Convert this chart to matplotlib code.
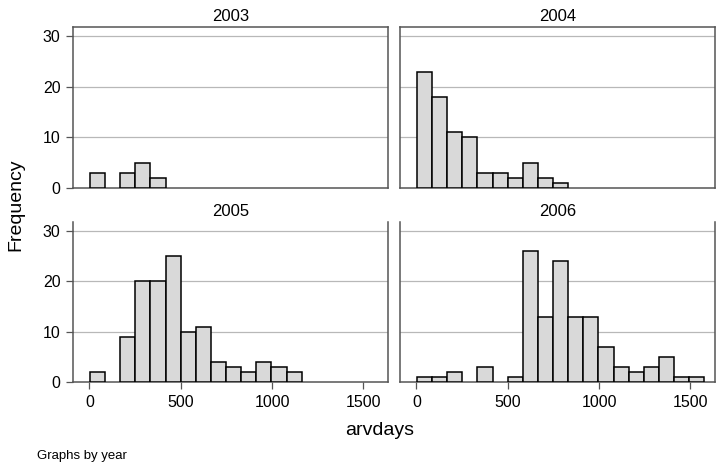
import numpy as np
import matplotlib
matplotlib.use("Agg")
import matplotlib.pyplot as plt

plt.rcParams["font.family"] = ["Liberation Sans", "DejaVu Sans"]

# histogram counts per bin (bins of ~83 days starting near 0)
years = ["2003", "2004", "2005", "2006"]
counts_2003 = [3, 0, 3, 5, 2]
counts_2004 = [23, 18, 11, 10, 3, 3, 2, 5, 2, 1]
counts_2005 = [2, 0, 9, 20, 20, 25, 10, 11, 4, 3, 2, 4, 3, 2]
counts_2006 = [1, 1, 2, 0, 3, 0, 1, 26, 13, 24, 13, 13, 7, 3, 2, 3, 5, 1, 1]
bin_start = 3.0
bin_width = 82.8
x_ticks = [0, 500, 1000, 1500]
y_ticks = [0, 10, 20, 30]

all_counts = [counts_2003, counts_2004, counts_2005, counts_2006]

fig = plt.figure(figsize=(7.25, 4.73), dpi=100)
W, H = 725, 473

# panel boxes in pixels: (left, top, right, bottom)
boxes = [(73, 27, 388, 188), (400, 27, 715, 188),
         (73, 222, 388, 382), (400, 222, 715, 382)]

spine_col = "#555555"
for i, (yr, counts, box) in enumerate(zip(years, all_counts, boxes)):
    l, t, r, b = box
    ax = fig.add_axes([l / W, 1 - b / H, (r - l) / W, (b - t) / H])
    counts = np.array(counts)
    lefts = bin_start + bin_width * np.arange(len(counts))
    keep = counts > 0
    ax.bar(lefts[keep], counts[keep], width=bin_width, align="edge",
           color="#d9d9d9", edgecolor="black", linewidth=1.1, zorder=3)
    ax.set_xlim(-90, 1635)
    ax.set_ylim(0, 31.8)
    for yv in y_ticks[1:]:
        ax.axhline(yv, color="#b8b8b8", linewidth=0.9, zorder=1)
    ax.set_title(yr, fontsize=12, pad=4)
    for s in ax.spines.values():
        s.set_color(spine_col)
        s.set_linewidth(1.1)
    if i >= 2:
        ax.spines["top"].set_visible(False)
    ax.set_yticks(y_ticks)
    ax.set_xticks(x_ticks)
    ax.tick_params(axis="both", labelsize=11.5, color=spine_col,
                   length=5, width=0.9, pad=4)
    if i % 2 == 1:
        ax.tick_params(axis="y", left=False, labelleft=False)
    if i < 2:
        ax.tick_params(axis="x", bottom=False, labelbottom=False)

fig.text(16 / W, 1 - 205 / H, "Frequency", rotation=90, fontsize=14,
         ha="center", va="center")
fig.text(380 / W, 1 - 430 / H, "arvdays", fontsize=14, ha="center", va="center")
fig.text(37 / W, 1 - 456 / H, "Graphs by year", fontsize=9.5, ha="left", va="center")

fig.savefig("out.png", dpi=100)
